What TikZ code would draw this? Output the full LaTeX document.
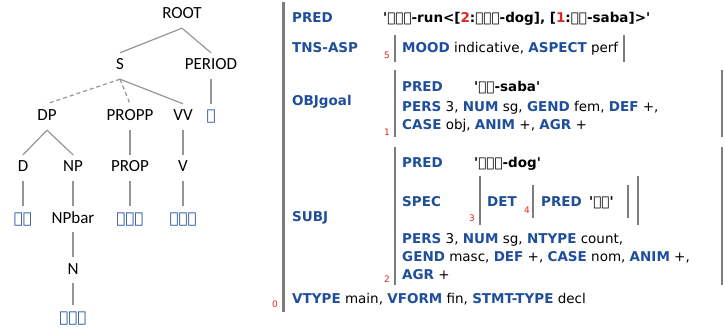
\documentclass[tikz,border=0pt]{standalone}
\usepackage{fontspec}
\setmainfont{DejaVu Sans}
\newfontfamily\treefont{Carlito}
\newfontfamily\ethfont{DejaVu Sans}
\definecolor{featblue}{RGB}{31,78,155}
\definecolor{idxred}{RGB}{222,38,38}
\definecolor{treegray}{RGB}{150,150,150}
\definecolor{bargray}{RGB}{125,125,125}
\newcommand{\feat}[1]{\textbf{\textcolor{featblue}{#1}}}
\newcommand{\eth}[1]{{\ethfont\bfseries #1}}
\newcommand{\slot}[1]{\textcolor{idxred}{#1}}
\newcommand{\q}{\textquotesingle}

\begin{document}
\begin{tikzpicture}[x=1pt,y=-1pt,
  cat/.style={font=\treefont\fontsize{17}{20}\selectfont, text height=11pt, text depth=3pt, inner xsep=1pt, inner ysep=6pt},
  leaf/.style={font=\ethfont\bfseries\fontsize{15}{18}\selectfont, text=featblue, text height=11pt, text depth=3pt, inner xsep=1pt, inner ysep=6pt},
  branch/.style={treegray, line width=1.2pt},
  fs/.style={anchor=base west, inner sep=0pt, font=\fontsize{13.5}{16}\selectfont},
  idx/.style={anchor=base, inner sep=0pt, text=idxred, font=\fontsize{9}{10}\selectfont},
  fbar/.style={bargray, line width=2.2pt}]
\useasboundingbox (0,0) rectangle (725,331);
% c-structure
\node[cat] (root) at (182,15) {ROOT};
\node[cat] (s) at (120,66) {S};
\node[cat] (period) at (211,66) {PERIOD};
\node[cat] (dp) at (47,117) {DP};
\node[cat] (propp) at (130,117) {PROPP};
\node[cat] (vv) at (183,117) {VV};
\node[leaf] (stop) at (211,117) {።};
\node[cat] (d) at (23,168) {D};
\node[cat] (np) at (73,168) {NP};
\node[cat] (prop) at (130,168) {PROP};
\node[cat] (v) at (183,168) {V};
\node[leaf] (wdet) at (23,219) {እቲ};
\node[cat] (npbar) at (73,219) {NPbar};
\node[leaf] (wprop) at (130,219) {ንሳባ};
\node[leaf] (wverb) at (183,219) {ጐዩዋ};
\node[cat] (n) at (73,270) {N};
\node[leaf] (wnoun) at (73,318) {ከልቢ};
% branches
\foreach \a/\b in {root/s, root/period, s/vv, period/stop, dp/d, dp/np, d/wdet,
  np/npbar, npbar/n, n/wnoun, propp/prop, prop/wprop, vv/v, v/wverb}
  \draw[branch] (\a.south) -- (\b.north);
\draw[branch, dash pattern=on 4pt off 3pt] (s.south) -- (dp.north);
\draw[branch, dash pattern=on 4pt off 3pt] (s.south) -- (propp.north);
% f-structure
\draw[fbar, line width=3pt] (283,2) -- (283,312);
\node[fs] (pred) at (292,23) {\feat{PRED}};
\node[fs] (predval) at (383,23) {\textbf{\q\eth{ጐየየ}-run<[\slot{2}:\eth{ከልቢ}-dog], [\slot{1}:\eth{ሳባ}-saba]>\q}};
% TNS-ASP
\node[fs] (tns) at (292,53) {\feat{TNS-ASP}};
\draw[fbar] (395,35) -- (395,62);
\draw[fbar] (624,35) -- (624,62);
\node[idx] (i5) at (387,59) {5};
\node[fs] (mood) at (402,53) {\feat{MOOD} indicative, \feat{ASPECT} perf};
% OBJgoal
\node[fs] (obj) at (292,106) {\feat{OBJgoal}};
\draw[fbar] (395,70) -- (395,137);
\draw[fbar] (722,70) -- (722,137);
\node[idx] (i1) at (387,136) {1};
\node[fs] (objpred) at (402,92) {\feat{PRED}};
\node[fs] (objval) at (474,92) {\textbf{\q\eth{ሳባ}-saba\q}};
\node[fs] (objl1) at (402,112) {\feat{PERS} 3, \feat{NUM} sg, \feat{GEND} fem, \feat{DEF} +,};
\node[fs] (objl2) at (402,130) {\feat{CASE} obj, \feat{ANIM} +, \feat{AGR} +};
% SUBJ
\node[fs] (subj) at (292,221) {\feat{SUBJ}};
\draw[fbar] (395,147) -- (395,285);
\draw[fbar] (722,147) -- (722,285);
\node[idx] (i2) at (387,282) {2};
\node[fs] (subjpred) at (402,168) {\feat{PRED}};
\node[fs] (subjval) at (474,168) {\textbf{\q\eth{ከልቢ}-dog\q}};
\node[fs] (spec) at (402,206) {\feat{SPEC}};
\draw[fbar] (480,176) -- (480,225);
\draw[fbar] (638,176) -- (638,225);
\node[idx] (i3) at (472,222) {3};
\node[fs] (det) at (487,206) {\feat{DET}};
\node[idx] (i4) at (527,214) {4};
\draw[fbar] (533,185) -- (533,218);
\draw[fbar] (628,185) -- (628,218);
\node[fs] (detpred) at (541,206) {\feat{PRED}};
\node[fs] (detval) at (589,206) {\textbf{\q\eth{እቲ}\q}};
\node[fs] (subjl1) at (402,243) {\feat{PERS} 3, \feat{NUM} sg, \feat{NTYPE} count,};
\node[fs] (subjl2) at (402,261) {\feat{GEND} masc, \feat{DEF} +, \feat{CASE} nom, \feat{ANIM} +,};
\node[fs] (subjl3) at (402,279) {\feat{AGR} +};
% outer features
\node[fs] (vtype) at (292,303) {\feat{VTYPE} main, \feat{VFORM} fin, \feat{STMT-TYPE} decl};
\node[idx] (i0) at (275,307) {0};
\end{tikzpicture}
\end{document}
